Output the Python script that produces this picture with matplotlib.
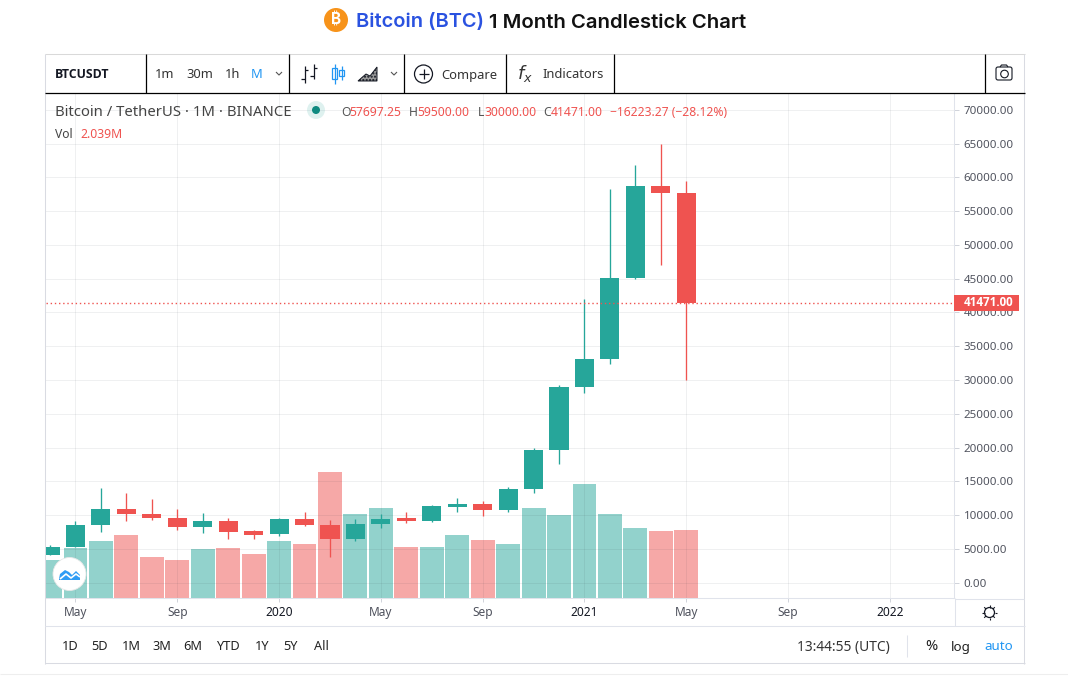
import numpy as np
import matplotlib
matplotlib.use("Agg")
import matplotlib.pyplot as plt
from matplotlib.patches import Circle, FancyBboxPatch, Polygon, Rectangle

# Monthly BTCUSDT candles, Apr 2019 - May 2021
months = ["Apr19", "May19", "Jun19", "Jul19", "Aug19", "Sep19", "Oct19", "Nov19", "Dec19",
          "Jan20", "Feb20", "Mar20", "Apr20", "May20", "Jun20", "Jul20", "Aug20", "Sep20",
          "Oct20", "Nov20", "Dec20", "Jan21", "Feb21", "Mar21", "Apr21", "May21"]
opens = [4100, 5320, 8555, 10854, 10100, 9600, 8290, 9150, 7600,
         7195, 9350, 8520, 6410, 8620, 9500, 9135, 11220, 11650,
         10780, 13790, 19700, 28900, 33100, 45100, 58700, 57697.25]
closes = [5320, 8555, 10854, 10080, 9580, 8290, 9150, 7540, 7100,
          9350, 8520, 6410, 8620, 9450, 9050, 11350, 11650, 10780,
          13790, 19700, 28900, 33100, 45100, 58700, 57697, 41471]
highs = [5600, 9074, 13970, 13200, 12325, 10900, 10370, 9500, 7750,
         9575, 10500, 9190, 9460, 10080, 10380, 11450, 12470, 12050,
         14100, 19860, 29300, 41950, 58350, 61800, 65000, 59500]
lows = [4050, 5300, 7444, 9100, 9320, 7710, 7300, 6500, 6430,
        6850, 8400, 3780, 6150, 8100, 8830, 8890, 10500, 9800,
        10400, 13200, 17600, 28100, 32300, 44950, 47000, 30000]
volumes = [1.14, 1.51, 1.71, 1.89, 1.23, 1.14, 1.47, 1.50, 1.32,
           1.71, 1.62, 3.78, 2.52, 2.70, 1.53, 1.53, 1.89, 1.74,
           1.62, 2.70, 2.49, 3.42, 2.52, 2.10, 2.01, 2.039]

price_ticks = list(range(0, 70001, 5000))
date_tick_pos = [1, 5, 9, 13, 17, 21, 25, 29, 33]
date_tick_labels = ["May", "Sep", "2020", "May", "Sep", "2021", "May", "Sep", "2022"]
last_price = 41471

GREEN = "#26a69a"
RED = "#ef5350"
BLUE = "#2196f3"
DARK = "#131722"
GREY = "#50535e"
LINE = "#e0e3eb"
FONT = ["Noto Sans", "DejaVu Sans"]
W, H = 1068, 689

plt.rcParams["font.family"] = FONT

fig = plt.figure(figsize=(W / 100, H / 100), dpi=100, facecolor="white")


def rect(l, t, r, b):
    return [l / W, 1 - b / H, (r - l) / W, (b - t) / H]


# volume sits on its own scale behind the price pane
ax_vol = fig.add_axes(rect(46, 94, 954, 598))
ax = fig.add_axes(rect(46, 94, 954, 598), sharex=ax_vol)
ax.set_zorder(2)
ax.patch.set_visible(False)

x = np.arange(len(months))
up = np.array(closes) >= np.array(opens)
colors = [GREEN if u else RED for u in up]

ax_vol.bar(x, volumes, width=0.94, color=colors, alpha=0.5, linewidth=0)
ax_vol.set_ylim(0, 15.12)
ax_vol.set_yticks([])
ax_vol.tick_params(bottom=False, labelbottom=False)
for s in ax_vol.spines.values():
    s.set_visible(False)

ax.vlines(x, lows, highs, colors=colors, linewidth=0.95, zorder=3)
ax.bar(x, np.abs(np.array(closes) - np.array(opens)), bottom=np.minimum(opens, closes),
       width=0.75, color=colors, linewidth=0, zorder=4)
ax.axhline(last_price, color=RED, linewidth=1, linestyle=(0, (1, 2)), zorder=5)

ax.set_xlim(-0.159, 35.52)
ax.set_ylim(-2296, 72370)
ax.yaxis.tick_right()
ax.set_yticks(price_ticks)
ax.set_yticklabels([f"{v:.2f}" for v in price_ticks])
ax.set_xticks(date_tick_pos)
ax.set_xticklabels(date_tick_labels)
ax.tick_params(axis="y", length=3.5, width=0.7, color="#d0d3da", labelsize=8.3, labelcolor=GREY, pad=3.5)
ax.tick_params(axis="x", length=3, width=0.7, color="#d0d3da", labelsize=8.6, labelcolor=GREY, pad=2.5)
for lab in ax.get_xticklabels():
    if lab.get_text().startswith("20"):
        lab.set_color(DARK)
        lab.set_fontweight("medium")
ax.grid(True, color="#2a2e39", alpha=0.07, linewidth=0.75)
ax.set_axisbelow(True)
for name, s in ax.spines.items():
    s.set_visible(name in ("right", "bottom"))
    s.set_color(LINE)
    s.set_linewidth(0.75)

# page furniture, drawn in pixel coordinates
ov = fig.add_axes([0, 0, 1, 1])
ov.set_xlim(0, W)
ov.set_ylim(H, 0)
ov.axis("off")
ov.patch.set_visible(False)
ov.set_zorder(5)


def label(px, py, s, color=DARK, size=9.3, ha="left", **kw):
    ov.text(px, py, s, color=color, fontsize=size, ha=ha, va="center", **kw)


def seg(xs, ys, color=DARK, lw=0.75, **kw):
    ov.plot(xs, ys, color=color, lw=lw, solid_capstyle="butt", **kw)


# title
ov.add_patch(Circle((336, 20), 12, color="#f7931a", lw=0))
label(336, 20, "₿", color="white", size=11, ha="center", weight="bold",
      family=["Inter", "Noto Sans", "Roboto", "Open Sans", "Lato", "DejaVu Sans"])
label(356, 22.5, "Bitcoin (BTC)", color="#2a52e0", size=14.4, weight="semibold", family=["Inter", "DejaVu Sans"])
label(489, 22.5, "1 Month Candlestick Chart", color="#111111", size=14.6, weight="semibold", family=["Inter", "DejaVu Sans"])

# frame
seg([45, 1025], [53.9, 53.9], color="#d9d9d9")
seg([44.9, 44.9], [54, 664], color="#d9dbe2")
seg([1023.9, 1023.9], [54, 664], color="#d9dbe2")
seg([45, 1025], [662.9, 662.9], color="#d9dbe2")
seg([45, 1025], [92.9, 92.9], color="black", lw=0.9)
seg([45, 1025], [625.9, 625.9], color=LINE)
seg([954.5, 1024], [598.5, 598.5], color=LINE)
seg([954.5, 954.5], [598, 626], color=LINE)
seg([0, W], [673.9, 673.9], color="#eeeeee")
for sx in (145.9, 288.9, 403.9, 505.9, 613.9, 984.9):
    seg([sx, sx], [54, 93], color="black", lw=0.9)
seg([906.9, 906.9], [635, 657], color=LINE)

# toolbar
label(55, 74.5, "BTCUSDT", size=8.8, weight="bold", family=["Open Sans", "DejaVu Sans"])
label(155, 75, "1m", color="#333333")
label(186, 75, "30m", color="#333333")
label(225, 75, "1h", color="#333333")
label(251, 75, "M", color=BLUE)
for cx in (279, 394):
    seg([cx - 3, cx, cx + 3], [72, 75, 72], color="#555555", lw=0.8)

seg([304.5, 304.5], [66, 83], lw=0.9)
seg([301, 304.5], [79, 79], lw=0.9)
seg([304.5, 308], [70, 70], lw=0.9)
seg([313.5, 313.5], [64, 79], lw=0.9)
seg([310, 313.5], [76, 76], lw=0.9)
seg([313.5, 317], [68, 68], lw=0.9)

seg([334.5, 334.5], [64, 84], color=BLUE, lw=0.9)
ov.add_patch(Rectangle((332, 68), 5, 11, fc="white", ec=BLUE, lw=0.9))
seg([341.5, 341.5], [66, 80], color=BLUE, lw=0.9)
ov.add_patch(Rectangle((339, 70), 5, 6, fc="white", ec=BLUE, lw=0.9))

ov.add_patch(Polygon([(358, 81), (366, 74), (370, 76), (377, 67), (377, 81)],
                     fc="#999999", ec=DARK, lw=0.7, hatch="....."))

ov.add_patch(Circle((423.5, 74), 9, fc="none", ec=DARK, lw=0.9))
seg([418.5, 428.5], [74, 74], lw=0.9)
seg([423.5, 423.5], [69, 79], lw=0.9)
label(441, 75, "Compare", color="#333333")

label(517, 74, "$f_x$", size=13, color="#333333")
label(542, 75, "Indicators", color="#333333")

ov.add_patch(FancyBboxPatch((996, 67), 16, 13, boxstyle="round,pad=0,rounding_size=2", fc="white", ec=DARK, lw=0.8))
seg([1000, 1001.5, 1006.5, 1008], [67, 65, 65, 67], lw=0.8)
ov.add_patch(Circle((1004.5, 74), 3.8, fc="white", ec=DARK, lw=0.8))

# legend lines
label(55, 112, "Bitcoin / TetherUS · 1M · BINANCE", color="#444444", size=10.7)
ov.add_patch(Circle((316, 110), 9, color=GREEN, alpha=0.15, lw=0))
ov.add_patch(Circle((316, 110), 4, color="#0e8a80", lw=0))
for head, val, px, off in [("O", "57697.25", 341, 8), ("H", "59500.00", 409, 8), ("L", "30000.00", 478, 6.5), ("C", "41471.00", 543, 7.5)]:
    label(px, 112.5, head, color="#555555", size=8.75)
    label(px + off, 112.5, val, color=RED, size=8.75)
label(610, 112.5, "−16223.27 (−28.12%)", color=RED, size=8.7)
label(55, 134.5, "Vol", color="#444444", size=8.75)
label(80, 134.5, "2.039M", color=RED, size=8.75)

# last price tag
ov.add_patch(Rectangle((954, 295), 65, 16, fc=RED, lw=0))
label(988.5, 303, f"{last_price:.2f}", color="white", size=8.4, ha="center", weight="bold", family=["Open Sans", "DejaVu Sans"])

# logo
ov.add_patch(Circle((69.5, 574), 16.5, fc="white", ec="#e8e8e8", lw=0.6))
ov.add_patch(Polygon([(59, 579), (60, 574), (65, 570), (69, 572), (72, 575), (76, 571), (80, 575), (80, 580), (59, 580)],
                     fc="#2f9cf4", lw=0))
seg([60, 66, 71, 76, 80], [579, 574, 578, 574, 577], color="white", lw=1.2)

# range buttons
for px, s in [(70, "1D"), (100, "5D"), (131, "1M"), (162, "3M"), (193, "6M"), (228, "YTD"), (262, "1Y"), (291, "5Y"), (321, "All")]:
    label(px, 647, s, color="#222222", ha="center", size=9.2)
label(890, 647, "13:44:55 (UTC)", color="#333333", ha="right", size=9.9)
label(931, 647, "%", color="#222222", ha="center", size=10.5)
label(961, 647, "log", color="#222222", ha="center", size=9.6)
label(999, 647, "auto", color=BLUE, ha="center", size=9.6)

# settings sun
ov.add_patch(Circle((989.5, 612.5), 5, fc="white", ec=DARK, lw=0.9))
for a in np.arange(0, 360, 45):
    dx, dy = np.cos(np.radians(a)), np.sin(np.radians(a))
    seg([989.5 + 5 * dx, 989.5 + 7.5 * dx], [612.5 + 5 * dy, 612.5 + 7.5 * dy], lw=0.8)

fig.savefig("out.png", dpi=100)
